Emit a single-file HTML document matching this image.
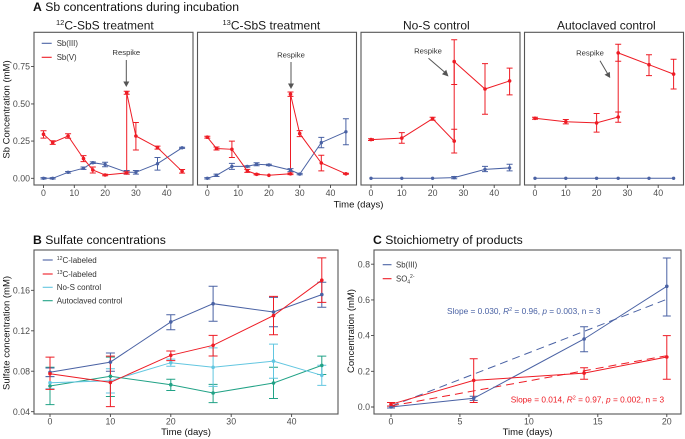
<!DOCTYPE html>
<html><head><meta charset="utf-8"><style>
html,body{margin:0;padding:0;background:#fff;}
svg{display:block;font-family:"Liberation Sans",Arial,sans-serif;}
</style></head><body>
<svg width="685" height="439" viewBox="0 0 685 439" xmlns="http://www.w3.org/2000/svg">
<rect width="685" height="439" fill="#fff"/>

<!-- ===== Titles ===== -->
<text x="33" y="10.8" font-size="12.2" fill="#111"><tspan font-weight="bold">A</tspan> Sb concentrations during incubation</text>
<text x="33" y="244" font-size="12.2" fill="#111"><tspan font-weight="bold">B</tspan> Sulfate concentrations</text>
<text x="373" y="244" font-size="12.2" fill="#111"><tspan font-weight="bold">C</tspan> Stoichiometry of products</text>

<!-- facet labels -->
<g font-size="12" fill="#1a1a1a">
<text x="56" y="29.3"><tspan font-size="7.5" dy="-4.5">12</tspan><tspan dy="4.5">C-SbS treatment</tspan></text>
<text x="222.5" y="29.3"><tspan font-size="7.5" dy="-4.5">13</tspan><tspan dy="4.5">C-SbS treatment</tspan></text>
<text x="403" y="29.3">No-S control</text>
<text x="557" y="29.3">Autoclaved control</text>
</g>

<!-- ===== Panel A frames ===== -->
<g fill="none" stroke="#555" stroke-width="1.1">
<rect x="34" y="32.3" width="159" height="152.7"/>
<rect x="197.5" y="32.3" width="159" height="152.7"/>
<rect x="361" y="32.3" width="159" height="152.7"/>
<rect x="524.5" y="32.3" width="159" height="152.7"/>
</g>

<!-- A y ticks -->
<g stroke="#444" stroke-width="0.9">
<path d="M31 178.3H34M31 141.1H34M31 103.9H34M31 66.6H34"/>
<!-- A x ticks -->
<path d="M43.5 185V188M74.3 185V188M105.1 185V188M135.9 185V188M166.7 185V188"/>
<path d="M207.3 185V188M238.1 185V188M268.9 185V188M299.7 185V188M330.5 185V188"/>
<path d="M371 185V188M401.8 185V188M432.6 185V188M463.4 185V188M494.2 185V188"/>
<path d="M535 185V188M565.8 185V188M596.6 185V188M627.4 185V188M658.2 185V188"/>
</g>
<g font-size="8.8" fill="#4d4d4d" text-anchor="end">
<text x="30" y="181.4">0.00</text>
<text x="30" y="144.2">0.25</text>
<text x="30" y="107">0.50</text>
<text x="30" y="69.7">0.75</text>
</g>
<g font-size="8.8" fill="#4d4d4d" text-anchor="middle">
<text x="43.5" y="196">0</text><text x="74.3" y="196">10</text><text x="105.1" y="196">20</text><text x="135.9" y="196">30</text><text x="166.7" y="196">40</text>
<text x="207.3" y="196">0</text><text x="238.1" y="196">10</text><text x="268.9" y="196">20</text><text x="299.7" y="196">30</text><text x="330.5" y="196">40</text>
<text x="371" y="196">0</text><text x="401.8" y="196">10</text><text x="432.6" y="196">20</text><text x="463.4" y="196">30</text><text x="494.2" y="196">40</text>
<text x="535" y="196">0</text><text x="565.8" y="196">10</text><text x="596.6" y="196">20</text><text x="627.4" y="196">30</text><text x="658.2" y="196">40</text>
</g>
<text x="358.5" y="207.5" font-size="9.5" fill="#111" text-anchor="middle">Time (days)</text>
<text transform="translate(9.5,109.5) rotate(-90)" font-size="9.5" fill="#111" text-anchor="middle">Sb Concentration (mM)</text>

<!-- A legend -->
<path d="M41.7 43.3H51.7" stroke="#4a62a4" stroke-width="1.1"/>
<path d="M41.7 57.3H51.7" stroke="#ee1c25" stroke-width="1.1"/>
<g font-size="7.8" fill="#333">
<text x="56.7" y="46.2">Sb(III)</text>
<text x="56.7" y="60.2">Sb(V)</text>
</g>

<!-- Respike annotations -->
<g font-size="7.7" fill="#333" text-anchor="middle">
<text x="126.3" y="55">Respike</text>
<text x="291" y="57.4">Respike</text>
<text x="428" y="53.3">Respike</text>
<text x="590" y="55.7">Respike</text>
</g>
<g stroke="#555" stroke-width="1" fill="#555">
<path d="M126.3 60V82" fill="none"/><path d="M123.3 81.5L129.3 81.5L126.3 87Z" stroke="none"/>
<path d="M291 62V84" fill="none"/><path d="M288 83.5L294 83.5L291 89Z" stroke="none"/>
<path d="M428.5 58.3L444.5 72" fill="none"/><path d="M442 74.3L446.2 69.8L448.5 76.5Z" stroke="none"/>
<path d="M600 60.7L607.5 73.5" fill="none"/><path d="M604.5 74.8L609.8 71.9L610.2 78Z" stroke="none"/>
</g>

<!-- ===== Panel A data ===== -->
<!-- panel 1 -->
<g fill="none" stroke-width="1">
<polyline stroke="#4a62a4" points="43.5,178.3 52.7,178.3 68.1,172.3 83.5,168.2 92.8,162.7 105.1,164.5 126.7,172.3 135.9,172.3 157.5,163.7 182.1,147.8"/>
<path stroke="#4a62a4" d="M43.5 177.6V179M40.5 177.6H46.5M40.5 179H46.5 M52.7 177.6V179M49.7 177.6H55.7M49.7 179H55.7 M68.1 171.5V173.1M65.1 171.5H71.1M65.1 173.1H71.1 M83.5 167V169.4M80.5 167H86.5M80.5 169.4H86.5 M92.8 161.9V163.5M89.8 161.9H95.8M89.8 163.5H95.8 M105.1 162.3V166.7M102.1 162.3H108.1M102.1 166.7H108.1 M126.7 170.5V174.1M123.7 170.5H129.7M123.7 174.1H129.7 M135.9 170.5V174.1M132.9 170.5H138.9M132.9 174.1H138.9 M157.5 157.5V170.1M154.5 157.5H160.5M154.5 170.1H160.5 M182.1 147.2V148.4M179.1 147.2H185.1M179.1 148.4H185.1"/>
<polyline stroke="#ee1c25" points="43.5,134.2 52.7,142.6 68.1,136 83.5,158.6 92.8,170 105.1,175 126.7,172.9 126.7,92.7 135.9,136 157.5,147.6 182.1,171.3"/>
<path stroke="#ee1c25" d="M43.5 130.7V138.1M40.5 130.7H46.5M40.5 138.1H46.5 M52.7 140.8V144.4M49.7 140.8H55.7M49.7 144.4H55.7 M68.1 133.8V138.2M65.1 133.8H71.1M65.1 138.2H71.1 M83.5 155.6V161.6M80.5 155.6H86.5M80.5 161.6H86.5 M92.8 167V173M89.8 167H95.8M89.8 173H95.8 M105.1 174.3V175.8M102.1 174.3H108.1M102.1 175.8H108.1 M126.7 171.7V174.1M123.7 171.7H129.7M123.7 174.1H129.7 M126.7 91.2V94.2M123.7 91.2H129.7M123.7 94.2H129.7 M135.9 122.5V150M132.9 122.5H138.9M132.9 150H138.9 M157.5 146.1V149.1M154.5 146.1H160.5M154.5 149.1H160.5 M182.1 169.5V173.1M179.1 169.5H185.1M179.1 173.1H185.1"/>
</g>
<g fill="#4a62a4">
<circle cx="43.5" cy="178.3" r="1.7"/><circle cx="52.7" cy="178.3" r="1.7"/><circle cx="68.1" cy="172.3" r="1.7"/><circle cx="83.5" cy="168.2" r="1.7"/><circle cx="92.8" cy="162.7" r="1.7"/><circle cx="105.1" cy="164.5" r="1.7"/><circle cx="126.7" cy="172.3" r="1.7"/><circle cx="135.9" cy="172.3" r="1.7"/><circle cx="157.5" cy="163.7" r="1.7"/><circle cx="182.1" cy="147.8" r="1.7"/>
</g>
<g fill="#ee1c25">
<circle cx="43.5" cy="134.2" r="1.8"/><circle cx="52.7" cy="142.6" r="1.8"/><circle cx="68.1" cy="136" r="1.8"/><circle cx="83.5" cy="158.6" r="1.8"/><circle cx="92.8" cy="170" r="1.8"/><circle cx="105.1" cy="175" r="1.8"/><circle cx="126.7" cy="172.9" r="1.8"/><circle cx="126.7" cy="92.7" r="1.8"/><circle cx="135.9" cy="136" r="1.8"/><circle cx="157.5" cy="147.6" r="1.8"/><circle cx="182.1" cy="171.3" r="1.8"/>
</g>

<!-- panel 2 -->
<g fill="none" stroke-width="1">
<polyline stroke="#4a62a4" points="207.3,178.3 216.5,175.3 231.9,166.4 247.3,166.4 256.6,164.2 268.9,164.9 290.5,170.1 299.7,174.1 321.3,142.6 345.9,131.8"/>
<path stroke="#4a62a4" d="M207.3 177.6V179M204.3 177.6H210.3M204.3 179H210.3 M216.5 174.1V176.5M213.5 174.1H219.5M213.5 176.5H219.5 M231.9 163.4V169.4M228.9 163.4H234.9M228.9 169.4H234.9 M247.3 165.7V167.1M244.3 165.7H250.3M244.3 167.1H250.3 M256.6 162.7V165.7M253.6 162.7H259.6M253.6 165.7H259.6 M268.9 164.2V165.6M265.9 164.2H271.9M265.9 165.6H271.9 M290.5 168.6V171.6M287.5 168.6H293.5M287.5 171.6H293.5 M299.7 173.4V174.8M296.7 173.4H302.7M296.7 174.8H302.7 M321.3 137.4V147.8M318.3 137.4H324.3M318.3 147.8H324.3 M345.9 118.7V144.8M342.9 118.7H348.9M342.9 144.8H348.9"/>
<polyline stroke="#ee1c25" points="207.3,137.2 216.5,148.5 231.9,149.3 247.3,170.9 256.6,174.3 268.9,175.3 290.5,173.8 290.5,94.2 299.7,133.6 321.3,163 345.9,173.8"/>
<path stroke="#ee1c25" d="M207.3 136.3V138.1M204.3 136.3H210.3M204.3 138.1H210.3 M216.5 147V150M213.5 147H219.5M213.5 150H219.5 M231.9 141.1V157.5M228.9 141.1H234.9M228.9 157.5H234.9 M247.3 169.4V172.4M244.3 169.4H250.3M244.3 172.4H250.3 M256.6 173.7V174.9M253.6 173.7H259.6M253.6 174.9H259.6 M290.5 173V174.6M287.5 173H293.5M287.5 174.6H293.5 M290.5 92V96.4M287.5 92H293.5M287.5 96.4H293.5 M299.7 130.6V136.6M296.7 130.6H302.7M296.7 136.6H302.7 M321.3 155.2V170.9M318.3 155.2H324.3M318.3 170.9H324.3 M345.9 173.3V174.3M342.9 173.3H348.9M342.9 174.3H348.9"/>
</g>
<g fill="#4a62a4">
<circle cx="207.3" cy="178.3" r="1.7"/><circle cx="216.5" cy="175.3" r="1.7"/><circle cx="231.9" cy="166.4" r="1.7"/><circle cx="247.3" cy="166.4" r="1.7"/><circle cx="256.6" cy="164.2" r="1.7"/><circle cx="268.9" cy="164.9" r="1.7"/><circle cx="290.5" cy="170.1" r="1.7"/><circle cx="299.7" cy="174.1" r="1.7"/><circle cx="321.3" cy="142.6" r="1.7"/><circle cx="345.9" cy="131.8" r="1.7"/>
</g>
<g fill="#ee1c25">
<circle cx="207.3" cy="137.2" r="1.8"/><circle cx="216.5" cy="148.5" r="1.8"/><circle cx="231.9" cy="149.3" r="1.8"/><circle cx="247.3" cy="170.9" r="1.8"/><circle cx="256.6" cy="174.3" r="1.8"/><circle cx="268.9" cy="175.3" r="1.8"/><circle cx="290.5" cy="173.8" r="1.8"/><circle cx="290.5" cy="94.2" r="1.8"/><circle cx="299.7" cy="133.6" r="1.8"/><circle cx="321.3" cy="163" r="1.8"/><circle cx="345.9" cy="173.8" r="1.8"/>
</g>

<!-- panel 3 -->
<g fill="none" stroke-width="1">
<polyline stroke="#4a62a4" points="371,178.3 401.8,178.3 432.6,178.3 454.2,177.6 485,169.4 509.6,167.9"/>
<path stroke="#4a62a4" d="M454.2 176.5V178.8M451.2 176.5H457.2M451.2 178.8H457.2 M485 166.4V171.6M482 166.4H488M482 171.6H488 M509.6 164.2V170.9M506.6 164.2H512.6M506.6 170.9H512.6"/>
<polyline stroke="#ee1c25" points="371,139.6 401.8,138.1 432.6,118.7 454.2,141.1 454.2,61.6 485,89 509.6,80.9"/>
<path stroke="#ee1c25" d="M371 138.7V140.5M368 138.7H374M368 140.5H374 M401.8 132.6V143.3M398.8 132.6H404.8M398.8 143.3H404.8 M432.6 117.2V120.2M429.6 117.2H435.6M429.6 120.2H435.6 M454.2 129.2V153M451.2 129.2H457.2M451.2 153H457.2 M454.2 39.8V84.5M451.2 39.8H457.2M451.2 84.5H457.2 M485 63.6V114.3M482 63.6H488M482 114.3H488 M509.6 68.1V94.9M506.6 68.1H512.6M506.6 94.9H512.6"/>
</g>
<g fill="#4a62a4">
<circle cx="371" cy="178.3" r="1.7"/><circle cx="401.8" cy="178.3" r="1.7"/><circle cx="432.6" cy="178.3" r="1.7"/><circle cx="454.2" cy="177.6" r="1.7"/><circle cx="485" cy="169.4" r="1.7"/><circle cx="509.6" cy="167.9" r="1.7"/>
</g>
<g fill="#ee1c25">
<circle cx="371" cy="139.6" r="1.8"/><circle cx="401.8" cy="138.1" r="1.8"/><circle cx="432.6" cy="118.7" r="1.8"/><circle cx="454.2" cy="141.1" r="1.8"/><circle cx="454.2" cy="61.6" r="1.8"/><circle cx="485" cy="89" r="1.8"/><circle cx="509.6" cy="80.9" r="1.8"/>
</g>

<!-- panel 4 -->
<g fill="none" stroke-width="1">
<polyline stroke="#4a62a4" points="535,178.3 565.8,178.3 596.6,178.3 618.2,178.3 649,178.3 673.6,178.3"/>
<polyline stroke="#ee1c25" points="535,118.3 565.8,121.7 596.6,122.9 618.2,117 618.2,52.9 649,64.7 673.6,74.1"/>
<path stroke="#ee1c25" d="M535 117.3V119.3M532 117.3H538M532 119.3H538 M565.8 119.5V123.9M562.8 119.5H568.8M562.8 123.9H568.8 M596.6 113.5V132.1M593.6 113.5H599.6M593.6 132.1H599.6 M618.2 112V122.3M615.2 112H621.2M615.2 122.3H621.2 M618.2 44.3V61.3M615.2 44.3H621.2M615.2 61.3H621.2 M649 54.7V75.6M646 54.7H652M646 75.6H652 M673.6 59.2V89M670.6 59.2H676.6M670.6 89H676.6"/>
</g>
<g fill="#4a62a4">
<circle cx="535" cy="178.3" r="1.7"/><circle cx="565.8" cy="178.3" r="1.7"/><circle cx="596.6" cy="178.3" r="1.7"/><circle cx="618.2" cy="178.3" r="1.7"/><circle cx="649" cy="178.3" r="1.7"/><circle cx="673.6" cy="178.3" r="1.7"/>
</g>
<g fill="#ee1c25">
<circle cx="535" cy="118.3" r="1.8"/><circle cx="565.8" cy="121.7" r="1.8"/><circle cx="596.6" cy="122.9" r="1.8"/><circle cx="618.2" cy="117" r="1.8"/><circle cx="618.2" cy="52.9" r="1.8"/><circle cx="649" cy="64.7" r="1.8"/><circle cx="673.6" cy="74.1" r="1.8"/>
</g>

<!-- ===== Panel B ===== -->
<rect x="34" y="250" width="304" height="164" fill="none" stroke="#555" stroke-width="1.1"/>
<g stroke="#444" stroke-width="0.9">
<path d="M31 411.7H34M31 371.2H34M31 330.8H34M31 290.3H34"/>
<path d="M50 414V417M110.4 414V417M170.8 414V417M231.2 414V417M291.6 414V417"/>
</g>
<g font-size="8.8" fill="#4d4d4d" text-anchor="end">
<text x="30" y="414.8">0.04</text>
<text x="30" y="374.3">0.08</text>
<text x="30" y="333.9">0.12</text>
<text x="30" y="293.4">0.16</text>
</g>
<g font-size="8.8" fill="#4d4d4d" text-anchor="middle">
<text x="50" y="424.5">0</text><text x="110.4" y="424.5">10</text><text x="170.8" y="424.5">20</text><text x="231.2" y="424.5">30</text><text x="291.6" y="424.5">40</text>
</g>
<text x="186" y="435" font-size="9.5" fill="#111" text-anchor="middle">Time (days)</text>
<text transform="translate(9.5,333) rotate(-90)" font-size="9.5" fill="#111" text-anchor="middle">Sulfate concentration (mM)</text>

<!-- B legend -->
<g stroke-width="1.1">
<path d="M42.7 260H52.7" stroke="#4a62a4"/>
<path d="M42.7 274H52.7" stroke="#ee1c25"/>
<path d="M42.7 287.3H52.7" stroke="#62c6e0"/>
<path d="M42.7 300.7H52.7" stroke="#21a286"/>
</g>
<g font-size="8" fill="#333">
<text x="56.7" y="262.9"><tspan font-size="5.2" dy="-3">12</tspan><tspan dy="3">C-labeled</tspan></text>
<text x="56.7" y="276.9"><tspan font-size="5.2" dy="-3">13</tspan><tspan dy="3">C-labeled</tspan></text>
<text x="56.7" y="290.2">No-S control</text>
<text x="56.7" y="303.6">Autoclaved control</text>
</g>

<g fill="none" stroke-width="1">
<!-- autoclaved teal -->
<polyline stroke="#21a286" points="50,386 110.4,376.3 170.8,384.7 213.1,393 273.5,383 321.8,365.4"/>
<path stroke="#21a286" d="M50 367.2V404.6M45.5 367.2H54.5M45.5 404.6H54.5 M110.4 357.1V396.5M105.9 357.1H114.9M105.9 396.5H114.9 M170.8 379.3V390.5M166.3 379.3H175.3M166.3 390.5H175.3 M213.1 384.4V402.6M208.6 384.4H217.6M208.6 402.6H217.6 M273.5 367.2V398.5M269 367.2H278M269 398.5H278 M321.8 356.1V374.5M317.3 356.1H326.3M317.3 374.5H326.3"/>
<!-- No-S light blue -->
<polyline stroke="#62c6e0" points="50,382.7 110.4,380.8 170.8,362.7 213.1,367.3 273.5,361.1 321.8,375.3"/>
<path stroke="#62c6e0" d="M50 376.6V388.8M45.5 376.6H54.5M45.5 388.8H54.5 M110.4 368.7V393M105.9 368.7H114.9M105.9 393H114.9 M170.8 359.1V366.2M166.3 359.1H175.3M166.3 366.2H175.3 M213.1 347.9V386.4M208.6 347.9H217.6M208.6 386.4H217.6 M273.5 344.1V378.3M269 344.1H278M269 378.3H278 M321.8 365.2V385.4M317.3 365.2H326.3M317.3 385.4H326.3"/>
<!-- 12C navy -->
<polyline stroke="#4a62a4" points="50,372.3 110.4,362.1 170.8,321.9 213.1,303.7 273.5,312 321.8,294.6"/>
<path stroke="#4a62a4" d="M50 368V376.6M45.5 368H54.5M45.5 376.6H54.5 M110.4 353V371.2M105.9 353H114.9M105.9 371.2H114.9 M170.8 314.8V329.8M166.3 314.8H175.3M166.3 329.8H175.3 M213.1 286.3V321.2M208.6 286.3H217.6M208.6 321.2H217.6 M273.5 297.4V326.7M269 297.4H278M269 326.7H278 M321.8 282.2V307.3M317.3 282.2H326.3M317.3 307.3H326.3"/>
<!-- 13C red -->
<polyline stroke="#ee1c25" points="50,373.7 110.4,382.4 170.8,355.3 213.1,345.3 273.5,315.6 321.8,280.2"/>
<path stroke="#ee1c25" d="M50 357.1V389.4M45.5 357.1H54.5M45.5 389.4H54.5 M110.4 356.1V406.6M105.9 356.1H114.9M105.9 406.6H114.9 M170.8 351V360.6M166.3 351H175.3M166.3 360.6H175.3 M213.1 335.4V356M208.6 335.4H217.6M208.6 356H217.6 M273.5 296.4V334.8M269 296.4H278M269 334.8H278 M321.8 257.9V302.4M317.3 257.9H326.3M317.3 302.4H326.3"/>
</g>
<g fill="#21a286">
<circle cx="50" cy="386" r="1.8"/><circle cx="110.4" cy="376.3" r="1.8"/><circle cx="170.8" cy="384.7" r="1.8"/><circle cx="213.1" cy="393" r="1.8"/><circle cx="273.5" cy="383" r="1.8"/><circle cx="321.8" cy="365.4" r="1.8"/>
</g>
<g fill="#62c6e0">
<circle cx="50" cy="382.7" r="1.8"/><circle cx="110.4" cy="380.8" r="1.8"/><circle cx="170.8" cy="362.7" r="1.8"/><circle cx="213.1" cy="367.3" r="1.8"/><circle cx="273.5" cy="361.1" r="1.8"/><circle cx="321.8" cy="375.3" r="1.8"/>
</g>
<g fill="#4a62a4">
<circle cx="50" cy="372.3" r="1.8"/><circle cx="110.4" cy="362.1" r="1.8"/><circle cx="170.8" cy="321.9" r="1.8"/><circle cx="213.1" cy="303.7" r="1.8"/><circle cx="273.5" cy="312" r="1.8"/><circle cx="321.8" cy="294.6" r="1.8"/>
</g>
<g fill="#ee1c25">
<circle cx="50" cy="373.7" r="1.8"/><circle cx="110.4" cy="382.4" r="1.8"/><circle cx="170.8" cy="355.3" r="1.8"/><circle cx="213.1" cy="345.3" r="1.8"/><circle cx="273.5" cy="315.6" r="1.8"/><circle cx="321.8" cy="280.2" r="1.8"/>
</g>

<!-- ===== Panel C ===== -->
<rect x="374" y="250" width="307" height="164" fill="none" stroke="#555" stroke-width="1.1"/>
<g stroke="#444" stroke-width="0.9">
<path d="M371 407H374M371 371.3H374M371 335.6H374M371 299.9H374M371 264.2H374"/>
<path d="M391 414V417M459.9 414V417M528.9 414V417M597.8 414V417M666.8 414V417"/>
</g>
<g font-size="8.8" fill="#4d4d4d" text-anchor="end">
<text x="370" y="410.1">0.0</text>
<text x="370" y="374.4">0.2</text>
<text x="370" y="338.7">0.4</text>
<text x="370" y="303">0.6</text>
<text x="370" y="267.3">0.8</text>
</g>
<g font-size="8.8" fill="#4d4d4d" text-anchor="middle">
<text x="391" y="424.5">0</text><text x="459.9" y="424.5">5</text><text x="528.9" y="424.5">10</text><text x="597.8" y="424.5">15</text><text x="666.8" y="424.5">20</text>
</g>
<text x="527.5" y="435" font-size="9.5" fill="#111" text-anchor="middle">Time (days)</text>
<text transform="translate(354,331) rotate(-90)" font-size="9.5" fill="#111" text-anchor="middle">Concentration (mM)</text>

<!-- C legend -->
<path d="M382.7 264.7H391.5" stroke="#4a62a4" stroke-width="1.1"/>
<path d="M382.7 278.7H391.5" stroke="#ee1c25" stroke-width="1.1"/>
<g font-size="7.8" fill="#333">
<text x="396" y="267.6">Sb(III)</text>
<text x="396" y="281.6">SO<tspan font-size="5" dy="1.8">4</tspan><tspan font-size="5" dy="-5.2">2-</tspan></text>
</g>

<!-- fits -->
<g fill="none" stroke-width="1" stroke-dasharray="8 5">
<path d="M391 406.2L666.8 299.3" stroke="#4a62a4"/>
<path d="M391 406L666.8 355.7" stroke="#ee1c25"/>
</g>
<g fill="none" stroke-width="1">
<polyline stroke="#4a62a4" points="391,407 473.7,398.3 584.1,339 666.8,286.3"/>
<path stroke="#4a62a4" d="M391 406V408M387 406H395M387 408H395 M473.7 396.2V400.4M469.7 396.2H477.7M469.7 400.4H477.7 M584.1 326.7V351.7M580.1 326.7H588.1M580.1 351.7H588.1 M666.8 258V316M662.8 258H670.8M662.8 316H670.8"/>
<polyline stroke="#ee1c25" points="391,404.3 473.7,380.4 584.1,373.1 666.8,357"/>
<path stroke="#ee1c25" d="M391 402.5V406.1M387 402.5H395M387 406.1H395 M473.7 358.8V402.5M469.7 358.8H477.7M469.7 402.5H477.7 M584.1 367.7V379.3M580.1 367.7H588.1M580.1 379.3H588.1 M666.8 335.6V379.3M662.8 335.6H670.8M662.8 379.3H670.8"/>
</g>
<g fill="#4a62a4">
<circle cx="391" cy="407" r="1.8"/><circle cx="473.7" cy="398.3" r="1.8"/><circle cx="584.1" cy="339" r="1.8"/><circle cx="666.8" cy="286.3" r="1.8"/>
</g>
<g fill="#ee1c25">
<circle cx="391" cy="404.3" r="1.8"/><circle cx="473.7" cy="380.4" r="1.8"/><circle cx="584.1" cy="373.1" r="1.8"/><circle cx="666.8" cy="357" r="1.8"/>
</g>

<text x="447" y="314" font-size="8.3" fill="#4a62a4">Slope = 0.030, <tspan font-style="italic">R</tspan><tspan font-size="5.5" dy="-3">2</tspan><tspan dy="3"> = 0.96, </tspan><tspan font-style="italic">p</tspan> = 0.003, n = 3</text>
<text x="510.7" y="402.5" font-size="8.3" fill="#ee1c25">Slope = 0.014, <tspan font-style="italic">R</tspan><tspan font-size="5.5" dy="-3">2</tspan><tspan dy="3"> = 0.97, </tspan><tspan font-style="italic">p</tspan> = 0.002, n = 3</text>

</svg>
</body></html>
